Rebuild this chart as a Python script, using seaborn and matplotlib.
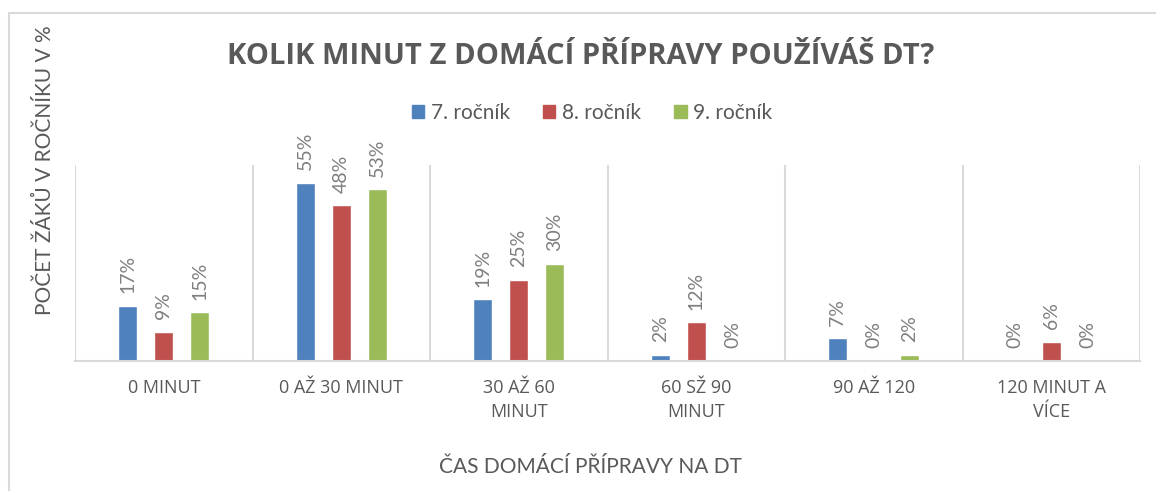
import pandas as pd
import matplotlib.pyplot as plt
import seaborn as sns
from matplotlib.patches import Rectangle

# Data
categories = ['0 MINUT', '0 AŽ 30 MINUT', '30 AŽ 60\nMINUT', '60 SŽ 90\nMINUT', '90 AŽ 120', '120 MINUT A\nVÍCE']
grades = ['7. ročník', '8. ročník', '9. ročník']
values_7 = [17, 55, 19, 2, 7, 0]
values_8 = [9, 48, 25, 12, 0, 6]
values_9 = [15, 53, 30, 0, 2, 0]
colors = ['#4F81BD', '#C0504D', '#9BBB59']

rows = []
for grade, vals in zip(grades, [values_7, values_8, values_9]):
    for cat, v in zip(categories, vals):
        rows.append({'cat': cat, 'grade': grade, 'value': v})
df = pd.DataFrame(rows)

sns.set_style('white')
plt.rcParams['font.family'] = ['Lato', 'DejaVu Sans']
text_gray = '#595959'
grid_gray = '#D9D9D9'

fig = plt.figure(figsize=(11.56, 4.91), dpi=100)
ax = fig.add_axes([0.0649, 0.2648, 0.9213, 0.3992])

sns.barplot(data=df, x='cat', y='value', hue='grade', order=categories,
            hue_order=grades, palette=colors, width=0.61, gap=0.47,
            saturation=1, ax=ax, legend=False)

for cont in ax.containers:
    ax.bar_label(cont, fmt='%d%%', rotation=90, padding=9,
                 color='#7F7F7F', fontsize=14)

ax.set_ylim(0, 60.5)
ax.set_xlim(-0.5, len(categories) - 0.5)
for i in range(len(categories) + 1):
    ax.axvline(i - 0.5, color=grid_gray, lw=1.5, zorder=0)
for s in ['top', 'right', 'left']:
    ax.spines[s].set_visible(False)
ax.spines['bottom'].set_color(grid_gray)
ax.spines['bottom'].set_linewidth(1.5)
ax.set_yticks([])
ax.set_xlabel('')
ax.set_ylabel('')
ax.tick_params(axis='x', length=0, pad=13)
for lab in ax.get_xticklabels():
    lab.set_family(['Open Sans', 'DejaVu Sans'])
    lab.set_fontsize(13)
    lab.set_color(text_gray)
    lab.set_linespacing(1.45)

# Title, legend, axis titles
fig.text(0.502, 1 - 57 / 491, 'KOLIK MINUT Z DOMÁCÍ PŘÍPRAVY POUŽÍVÁŠ DT?',
         ha='center', va='center', fontsize=21, fontweight='bold', color=text_gray,
         family=['Open Sans', 'DejaVu Sans'])
handles = [Rectangle((0, 0), 1, 1, color=c) for c in colors]
fig.legend(handles, grades, loc='center', bbox_to_anchor=(0.512, 1 - 113 / 491),
           ncol=3, frameon=False, fontsize=15, handlelength=0.6, handleheight=0.6,
           handletextpad=0.3, columnspacing=1.6, labelcolor=text_gray)
fig.text(45 / 1156, 1 - 170 / 491, 'POČET ŽÁKŮ V ROČNÍKU V %', rotation=90,
         ha='center', va='center', fontsize=15, color=text_gray)
fig.text(590 / 1156, 1 - 467 / 491, 'ČAS DOMÁCÍ PŘÍPRAVY NA DT',
         ha='center', va='center', fontsize=15, color=text_gray)

# Chart border
fig.patches.append(Rectangle((9 / 1156, -0.1), 1.2, 1 - 13 / 491 + 0.1,
                             transform=fig.transFigure, fill=False,
                             edgecolor=grid_gray, lw=1.5))

fig.savefig('out.png', dpi=100)
